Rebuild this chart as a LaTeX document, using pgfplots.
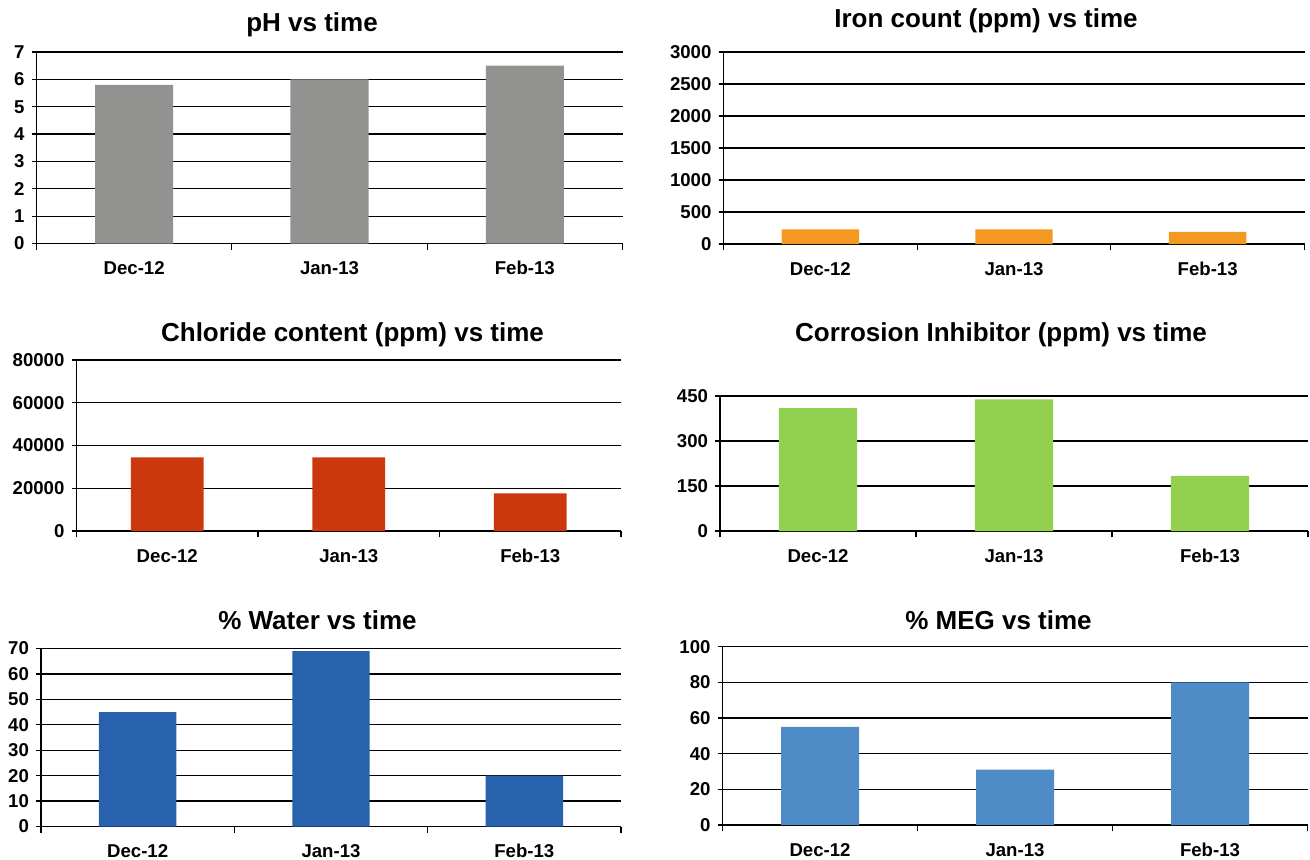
\documentclass[border=0pt]{standalone}
\usepackage{fontspec}
\setmainfont{Liberation Sans}
\usepackage{pgfplots}
\pgfplotsset{compat=1.18}
\definecolor{phgray}{RGB}{146,147,145}
\definecolor{ironorange}{RGB}{243,153,33}
\definecolor{chlred}{RGB}{204,56,13}
\definecolor{corrgreen}{RGB}{146,208,80}
\definecolor{waterblue}{RGB}{41,98,172}
\definecolor{megblue}{RGB}{79,139,199}
\pgfplotsset{
  panel/.style={
    scale only axis,
    axis lines=left,
    axis line style={-, black, line width=0.65pt},
    xmin=-0.5, xmax=2.5, ymin=0,
    xtick={0,1,2},
    xticklabels={Dec-12,Jan-13,Feb-13},
    minor xtick={-0.5,0.5,1.5,2.5},
    major x tick style={draw=none},
    tick align=outside,
    minor tick length=3.2pt,
    major tick length=2.5pt,
    ymajorgrids,
    grid style={black, line width=0.6pt},
    tick style={black, line width=0.6pt},
    ybar, bar width=0.4,
    scaled y ticks=false,
    /pgf/number format/1000 sep={},
    /pgf/number format/assume math mode=true,
    ticklabel style={font=\fontsize{9.3}{11}\selectfont\bfseries},
    xticklabel style={yshift=-2.5pt, text height=7pt, text depth=0pt},
    anchor=south west,
    clip=false,
  },
}
\tikzset{ttl/.style={font=\fontsize{13}{15}\selectfont\bfseries, anchor=base, inner sep=0pt}}
\begin{document}
\begin{tikzpicture}
\useasboundingbox (0,0) rectangle (655pt,429.5pt);
% pH
\begin{axis}[panel, at={(18.25pt,307.75pt)}, width=293pt, height=95.75pt,
  ymax=7, ytick={0,1,...,7}]
\addplot[fill=phgray, draw=none] coordinates {(0,5.8) (1,6.0) (2,6.5)};
\end{axis}
% Iron
\begin{axis}[panel, at={(361.75pt,307.5pt)}, width=290.5pt, height=96pt,
  ymax=3000, ytick={0,500,...,3000}]
\addplot[fill=ironorange, draw=none] coordinates {(0,228) (1,228) (2,190)};
\end{axis}
% Chloride
\begin{axis}[panel, at={(38.25pt,164pt)}, width=272.25pt, height=85.5pt,
  ymax=80000, ytick={0,20000,40000,60000,80000}]
\addplot[fill=chlred, draw=none] coordinates {(0,34500) (1,34500) (2,17600)};
\end{axis}
% Corrosion inhibitor
\begin{axis}[panel, at={(360pt,164pt)}, width=294pt, height=67.5pt,
  ymax=450, ytick={0,150,300,450}]
\addplot[fill=corrgreen, draw=none] coordinates {(0,410) (1,439) (2,184)};
\end{axis}
% Water
\begin{axis}[panel, at={(20.5pt,16.25pt)}, width=290pt, height=89pt,
  ymax=70, ytick={0,10,...,70}]
\addplot[fill=waterblue, draw=none] coordinates {(0,45) (1,69) (2,20)};
\end{axis}
% MEG
\begin{axis}[panel, at={(361.25pt,17pt)}, width=292.5pt, height=89.15pt,
  ymax=100, ytick={0,20,...,100}]
\addplot[fill=megblue, draw=none] coordinates {(0,55) (1,31) (2,80)};
\end{axis}
% titles
\node[ttl] at (156pt,413.5pt) {pH vs time};
\node[ttl] at (493pt,415.5pt) {Iron count (ppm) vs time};
\node[ttl] at (176.25pt,258.75pt) {Chloride content (ppm) vs time};
\node[ttl] at (500.5pt,258.75pt) {Corrosion Inhibitor (ppm) vs time};
\node[ttl] at (158.75pt,114.75pt) {\% Water vs time};
\node[ttl] at (499.25pt,114.75pt) {\% MEG vs time};
\end{tikzpicture}
\end{document}
